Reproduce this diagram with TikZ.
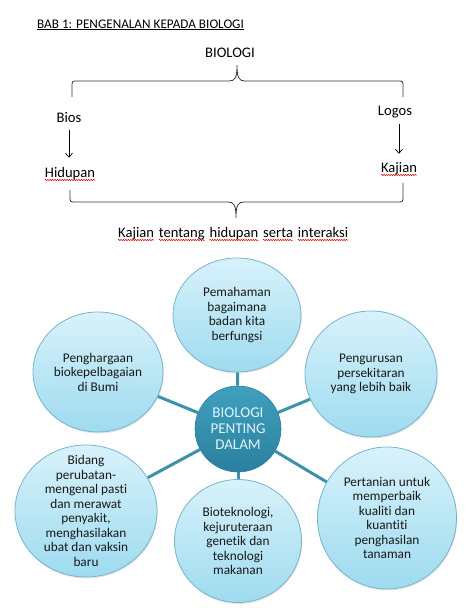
\documentclass[tikz,border=0pt]{standalone}
\usepackage{fontspec}
\setmainfont{Carlito}[Ligatures=NoCommon]
\usepackage{xcolor}
\usetikzlibrary{shapes.geometric,decorations.pathmorphing,backgrounds,shadows,arrows.meta}

\definecolor{bubbletop}{HTML}{D8F2FB}
\definecolor{bubblebot}{HTML}{9EDBEF}
\definecolor{bubbleline}{HTML}{78B3CA}
\definecolor{hubtop}{HTML}{3FA0BE}
\definecolor{hubbot}{HTML}{2A809E}
\definecolor{spoke}{HTML}{3D91AB}
\definecolor{hubtext}{HTML}{E2F5FA}

\tikzset{
	word/.style={inner sep=0pt, font=\fontsize{14.6}{17}\selectfont},
	squig/.style={red!85!black, line width=0.5pt, decorate,
		decoration={snake, amplitude=0.7pt, segment length=2.4pt}},
	brace/.style={draw=black!80, line width=0.8pt},
	bubble/.style={ellipse, draw=bubbleline, line width=0.8pt,
		top color=bubbletop, bottom color=bubblebot, inner sep=-20pt,
		align=center, text=black!90, font=\fontsize{13.3}{14.5}\selectfont,
		drop shadow={opacity=0.18, shadow xshift=0.8pt, shadow yshift=-1.5pt}},
	hub/.style={circle, draw=hubbot, line width=0.6pt, top color=hubtop,
		bottom color=hubbot, minimum size=86pt, inner sep=0pt, align=center,
		text=hubtext, font=\fontsize{15}{16}\selectfont},
	spokeline/.style={draw=spoke, line width=3pt}
}

\begin{document}
\begin{tikzpicture}[x=1pt,y=-1pt]
			\useasboundingbox (0,0) rectangle (474,608);
			% heading and the word BIOLOGI
			\node[word, anchor=base, font=\fontsize{13.2}{15}\selectfont] (bab) at (140.5,28) {\underline{BAB 1: PENGENALAN KEPADA BIOLOGI}};
			\node[word, anchor=base] (bio) at (230,57) {BIOLOGI};
			% top brace
			\draw[brace] (72,97) -- (72,87) .. controls (72,81) .. (78,81) -- (229,81)
				.. controls (235,81) and (237,78) .. (237,65)
				.. controls (237,78) and (239,81) .. (245,81) -- (397,81)
				.. controls (403,81) .. (403,87) -- (403,97);
			% the two roots
			\node[word, anchor=base] (bios) at (69,122) {Bios};
			\node[word, anchor=base] (hid) at (70,177) {Hidupan};
			\node[word, anchor=base] (logos) at (395,115) {Logos};
			\node[word, anchor=base] (kaj) at (399,172) {Kajian};
			\draw[-{Straight Barb[length=4pt,width=7pt]}, line width=0.7pt, shorten <=8pt, shorten >=9pt] (bios.south) -- (bios.south |- hid.north);
			\draw[-{Straight Barb[length=4pt,width=7pt]}, line width=0.7pt, shorten <=6pt, shorten >=8pt] (kaj.north |- logos.south) -- (kaj.north);
			% bottom brace
			\draw[brace] (70,190) -- (70,196) .. controls (70,202) .. (76,202) -- (228,202)
				.. controls (234,202) and (236,205) .. (236,218)
				.. controls (236,205) and (238,202) .. (244,202) -- (397,202)
				.. controls (403,202) .. (403,196) -- (403,183);
			% meaning, one word at a time
			\node[word, anchor=base west] (w1) at (118,237) {Kajian};
			\node[word, anchor=base west] (w2) at ([xshift=4.5pt]w1.base east) {tentang};
			\node[word, anchor=base west] (w3) at ([xshift=4.5pt]w2.base east) {hidupan};
			\node[word, anchor=base west] (w4) at ([xshift=4.5pt]w3.base east) {serta};
			\node[word, anchor=base west] (w5) at ([xshift=4.5pt]w4.base east) {interaksi};
			\foreach \w in {hid,kaj,w1,w2,w3,w4,w5} {
				\draw[squig] ([yshift=-3pt]\w.base west) -- ([yshift=-3pt]\w.base east);
			}
			% radial diagram
			\node[hub] (hub) at (238,429) {BIOLOGI\\PENTING\\DALAM};
			\node[bubble, minimum width=128pt, minimum height=114pt] (top) at (237,315) {Pemahaman\\bagaimana\\badan kita\\berfungsi};
			\node[bubble, minimum width=130pt, minimum height=120pt] (ul) at (98,372) {Penghargaan\\biokepelbagaian\\di Bumi};
			\node[bubble, minimum width=132pt, minimum height=126pt] (ur) at (371,374) {Pengurusan\\persekitaran\\yang lebih baik};
			\node[bubble, minimum width=142pt, minimum height=132pt] (ll) at (86,511) {Bidang\\perubatan-\\mengenal pasti\\dan merawat\\penyakit,\\menghasilakan\\ubat dan vaksin\\baru};
			\node[bubble, minimum width=127pt, minimum height=123pt] (bot) at (238,541) {Bioteknologi,\\kejuruteraan\\genetik dan\\teknologi\\makanan};
			\node[bubble, minimum width=139pt, minimum height=142pt] (lr) at (387,518) {Pertanian untuk\\memperbaik\\kualiti dan\\kuantiti\\penghasilan\\tanaman};
			\begin{scope}[on background layer]
				\fill[white] (0,0) rectangle (474,608);
				\foreach \b in {top,ul,ur,ll,bot,lr} {
					\draw[spokeline] (hub) -- (\b);
				}
			\end{scope}
		\end{tikzpicture}
\end{document}
